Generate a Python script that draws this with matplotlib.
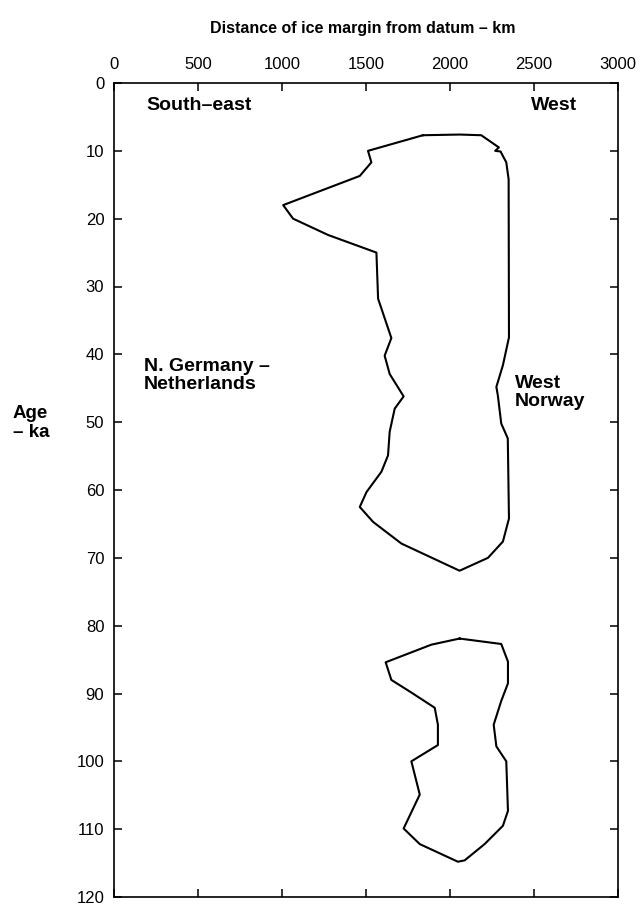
import matplotlib
matplotlib.use("Agg")
import matplotlib.pyplot as plt

# Upper ice-margin envelope (km from datum, age ka)
upper_km = [1839, 2057, 2186, 2291, 2269, 2301, 2335, 2349, 2351, 2315, 2276, 2285,
            2305, 2344, 2351, 2315, 2226, 2057, 1711, 1542, 1463, 1503, 1592, 1631,
            1641, 1671, 1724, 1641, 1611, 1651, 1572, 1562, 1274, 1066, 1007, 1463,
            1532, 1512, 1839]
upper_ka = [7.7, 7.6, 7.7, 9.5, 10.0, 10.1, 11.7, 14.2, 37.5, 41.6, 44.8, 46.1,
            50.2, 52.4, 64.2, 67.6, 70.0, 71.9, 67.9, 64.7, 62.5, 60.3, 57.3, 54.9,
            51.4, 48.0, 46.2, 42.9, 40.2, 37.6, 31.8, 25.0, 22.4, 20.0, 18.0, 13.7,
            11.7, 10.0, 7.7]

# Lower ice-margin envelope
lower_km = [2057, 2305, 2345, 2345, 2305, 2260, 2276, 2335, 2345, 2315, 2206, 2087,
            2047, 1820, 1724, 1820, 1770, 1928, 1928, 1909, 1760, 1651, 1617, 1889, 2057]
lower_ka = [81.9, 82.7, 85.3, 88.5, 91.1, 94.6, 97.8, 100.0, 107.3, 109.5, 112.2, 114.6,
            114.8, 112.2, 109.9, 104.9, 100.0, 97.6, 94.6, 92.1, 89.7, 88.0, 85.4, 82.8, 81.9]

x_ticks = [0, 500, 1000, 1500, 2000, 2500, 3000]
y_ticks = [0, 10, 20, 30, 40, 50, 60, 70, 80, 90, 100, 110, 120]

title = "Distance of ice margin from datum \u2013 km"

plt.rcParams['font.family'] = ['Liberation Sans', 'DejaVu Sans']

fig = plt.figure(figsize=(6.4, 9.07), dpi=100)
ax = fig.add_axes([114/640, 10/907, 504/640, 814/907])

ax.plot(upper_km, upper_ka, color='black', lw=1.5)
ax.plot(lower_km, lower_ka, color='black', lw=1.5)

ax.set_xlim(0, 3000)
ax.set_ylim(120, 0)
ax.set_xticks(x_ticks)
ax.set_yticks(y_ticks)
ax.xaxis.tick_top()
ax.tick_params(axis='x', which='both', top=True, bottom=True, labeltop=True,
               labelbottom=False, direction='in', length=6, width=1.1, pad=8,
               labelsize=12)
ax.tick_params(axis='y', which='both', left=True, right=True, direction='in',
               length=6, width=1.1, pad=7, labelsize=12)
for s in ax.spines.values():
    s.set_linewidth(1.2)

bold = dict(fontweight='bold', fontsize=14)
ax.text(190, 4.0, "South\u2013east", ha='left', va='baseline', **bold)
ax.text(2759, 4.0, "West", ha='right', va='baseline', **bold)
ax.text(178, 42.4, "N. Germany \u2013", ha='left', va='baseline', **bold)
ax.text(178, 45.1, "Netherlands", ha='left', va='baseline', **bold)
ax.text(2384, 44.9, "West", ha='left', va='baseline', **bold)
ax.text(2384, 47.6, "Norway", ha='left', va='baseline', **bold)

fig.text(363/640, 1 - 29/907, title, ha='center', va='center',
         fontweight='bold', fontsize=11.5)
fig.text(13/640, 1 - 418/907, "Age", ha='left', va='baseline',
         fontweight='bold', fontsize=13.5)
fig.text(13/640, 1 - 437/907, "\u2013 ka", ha='left', va='baseline',
         fontweight='bold', fontsize=13.5)

fig.savefig("out.png", dpi=100)
